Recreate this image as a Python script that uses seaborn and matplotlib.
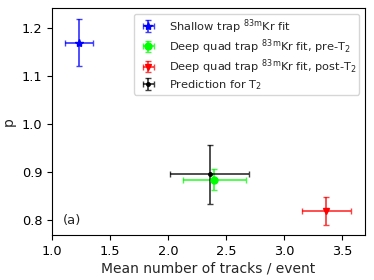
import matplotlib
matplotlib.use("Agg")
import matplotlib.pyplot as plt
import seaborn as sns

sns.set_style("ticks")
plt.rcParams["font.family"] = ["DejaVu Sans"]
plt.rcParams["axes.edgecolor"] = "black"
plt.rcParams["xtick.color"] = "black"
plt.rcParams["ytick.color"] = "black"

# Data
labels = [r"Shallow trap $^{83\mathrm{m}}$Kr fit",
          r"Deep quad trap $^{83\mathrm{m}}$Kr fit, pre-T$_2$",
          r"Deep quad trap $^{83\mathrm{m}}$Kr fit, post-T$_2$",
          r"Prediction for T$_2$"]
tracks = [1.235, 2.40, 3.365, 2.36]
tracks_err = [0.12, 0.27, 0.21, 0.34]
p_vals = [1.169, 0.884, 0.818, 0.895]
p_err = [0.049, 0.022, 0.029, 0.062]
colors = ["blue", "lime", "red", "black"]
markers = ["*", "o", "v", "."]
sizes = [6, 5, 5, 5]

fig, ax = plt.subplots(figsize=(3.74, 2.8), dpi=100)
fig.subplots_adjust(left=0.139, right=0.976, top=0.970, bottom=0.161)

for lab, x, xe, y, ye, c, m, s in zip(labels, tracks, tracks_err, p_vals, p_err,
                                      colors, markers, sizes):
    eb = ax.errorbar(x, y, xerr=xe, yerr=ye, fmt=m, color=c, ecolor=c,
                     markersize=s, elinewidth=1.3, capsize=2.5, label=lab)
    for part in eb[1] + eb[2]:
        part.set_alpha(0.75)

ax.set_xlim(1.0, 3.7)
ax.set_ylim(0.769, 1.24)
ax.set_xticks([1.0, 1.5, 2.0, 2.5, 3.0, 3.5])
ax.set_yticks([0.8, 0.9, 1.0, 1.1, 1.2])
ax.tick_params(labelsize=9.3)
ax.set_xlabel("Mean number of tracks / event", fontsize=10, labelpad=3)
ax.set_ylabel("p", fontsize=10, labelpad=4)
ax.text(1.09, 0.80, "(a)", fontsize=9.5, va="center")
ax.legend(loc="upper right", fontsize=8.2, handlelength=2.0, framealpha=0.8,
          labelspacing=0.15, borderaxespad=0.5, borderpad=0.25)

fig.savefig("out.png", dpi=100)
